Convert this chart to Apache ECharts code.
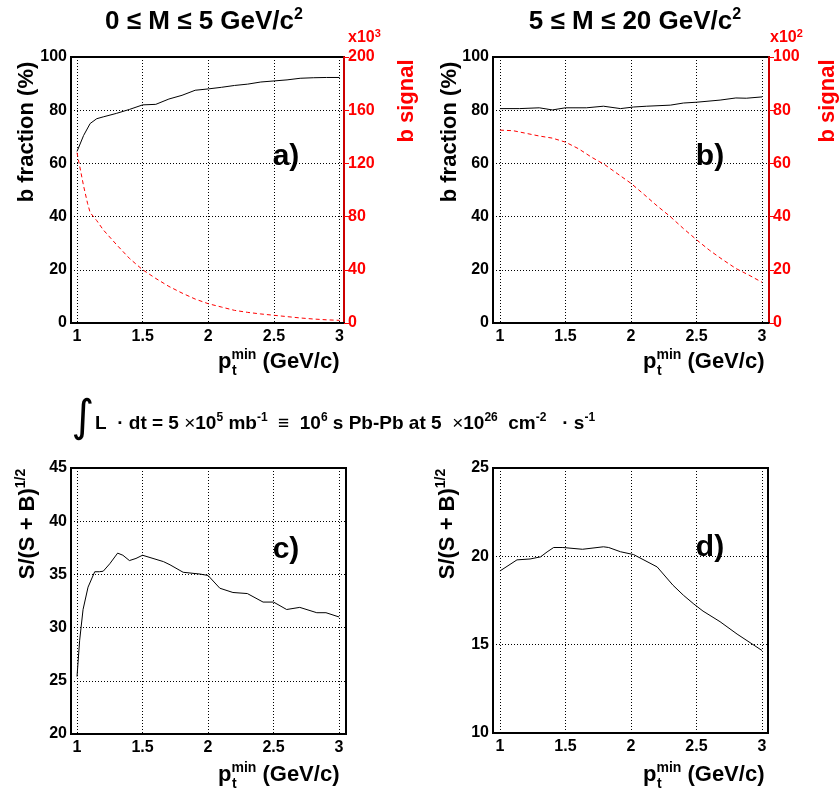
<!DOCTYPE html>
<html><head><meta charset="utf-8">
<script src="https://cdn.jsdelivr.net/npm/echarts@6/dist/echarts.min.js"></script>
<style>html,body{margin:0;padding:0;background:#fff}#c{width:840px;height:792px}</style>
</head><body><div id="c"></div>
<script>
// ---- data ----
const xTicks = [1, 1.5, 2, 2.5, 3];
const fracA_x = [1.0,1.05,1.1,1.15,1.2,1.3,1.4,1.5,1.6,1.7,1.8,1.9,2.0,2.1,2.2,2.3,2.4,2.5,2.6,2.7,2.8,2.9,3.0];
const fracA_y = [64.5,70.5,75,76.8,77.5,78.8,80.3,82,82.2,84.2,85.6,87.5,88,88.6,89.3,89.8,90.6,91,91.4,92,92.2,92.3,92.3];
const sigA_x = [1.0,1.02,1.05,1.08,1.1,1.15,1.2,1.3,1.4,1.5,1.6,1.7,1.8,1.9,2.0,2.1,2.2,2.3,2.4,2.5,2.6,2.7,2.8,2.9,3.0];
const sigA_y = [128,118,103,90,83,77,70,59,48.5,40,33.5,27.5,22.5,18,14.5,12,9.5,8,6.8,5.8,4.8,3.8,3,2.4,2];
const fracB_x = [1.0,1.15,1.3,1.4,1.5,1.66,1.79,1.92,2.02,2.12,2.3,2.4,2.5,2.68,2.8,2.88,3.0];
const fracB_y = [80.6,80.6,80.9,80.1,80.9,80.9,81.5,80.6,81.2,81.5,81.9,82.7,83,83.8,84.6,84.5,85];
const sigB_x = [1.0,1.1,1.2,1.3,1.4,1.5,1.6,1.7,1.8,1.9,2.0,2.1,2.2,2.3,2.4,2.5,2.6,2.7,2.8,2.9,3.0];
const sigB_y = [72.5,72.3,71.3,70.3,69.5,68,65.5,62.3,59.5,56,52.5,48.3,44,40,35.5,31.3,27.3,23.8,20.5,18,15.3];
const sigC_x = [1.0,1.02,1.046,1.084,1.135,1.17,1.2,1.25,1.31,1.35,1.4,1.45,1.5,1.58,1.66,1.71,1.81,1.94,2.0,2.09,2.19,2.3,2.42,2.5,2.6,2.7,2.83,2.9,3.0];
const sigC_y = [25.4,28.8,31.7,33.8,35.25,35.25,35.3,36,37.0,36.8,36.3,36.5,36.8,36.5,36.2,35.9,35.2,35.03,34.9,33.7,33.3,33.2,32.4,32.4,31.7,31.9,31.4,31.4,31.0];
const sigD_x = [1.0,1.13,1.23,1.31,1.36,1.41,1.48,1.63,1.79,1.83,1.92,2.02,2.2,2.32,2.4,2.48,2.55,2.68,2.81,3.0];
const sigD_y = [19.17,19.8,19.85,19.97,20.25,20.5,20.5,20.4,20.54,20.5,20.26,20.1,19.4,18.37,17.8,17.3,16.9,16.3,15.6,14.67];

const pairs = (xs, ys) => xs.map((x, i) => [x, ys[i]]);
const FONT = 'Liberation Sans, Arial, sans-serif';
const RED = '#ff0000', DRED = '#cc0000';

const grids = [
  {left: 71, right: 496, top: 57, bottom: 469},
  {left: 493, right: 71, top: 57, bottom: 469},
  {left: 71, right: 494, top: 468, bottom: 58},
  {left: 493, right: 72, top: 468, bottom: 59}
].map(g => Object.assign(g, {show: true, borderColor: '#000', borderWidth: 2, backgroundColor: 'transparent', containLabel: false}));

const dotted = {show: true, lineStyle: {color: '#000', width: 1, type: [1, 2]}};
function xAx(i, min, max) {
  return {type: 'value', gridIndex: i, min: min, max: max,
    axisLine: {show: true, onZero: false, lineStyle: {color: '#000', width: 2}},
    axisTick: {show: false, customValues: xTicks},
    axisLabel: {customValues: xTicks, color: '#000', fontFamily: FONT, fontWeight: 'bold', fontSize: 16, margin: 6},
    splitLine: dotted};
}
function yAx(i, min, max, interval) {
  return {type: 'value', gridIndex: i, min: min, max: max, interval: interval, position: 'left',
    axisLine: {show: true, onZero: false, lineStyle: {color: '#000', width: 2}},
    axisTick: {show: false},
    axisLabel: {color: '#000', fontFamily: FONT, fontWeight: 'bold', fontSize: 16, margin: 4},
    splitLine: dotted};
}
function yAxR(i, min, max, interval) {
  return {type: 'value', gridIndex: i, min: min, max: max, interval: interval, position: 'right',
    axisLine: {show: true, onZero: false, lineStyle: {color: DRED, width: 2}},
    axisTick: {show: true, inside: false, length: 5, lineStyle: {color: RED, width: 1}},
    axisLabel: {color: RED, fontFamily: FONT, fontWeight: 'bold', fontSize: 16, margin: 4},
    splitLine: {show: false}};
}

const xAxis = [xAx(0, 0.954, 3.034), xAx(1, 0.947, 3.053), xAx(2, 0.954, 3.053), xAx(3, 0.947, 3.046)];
const yAxis = [yAx(0, 0, 100, 20), yAxR(0, 0, 200, 40), yAx(1, 0, 100, 20), yAxR(1, 0, 100, 20), yAx(2, 20, 45, 5), yAx(3, 10, 25, 5)];

const line = (xi, yi, data, color, type) => ({type: 'line', xAxisIndex: xi, yAxisIndex: yi, data: data, symbol: 'none', smooth: false,
  lineStyle: {color: color, width: 1, type: type || 'solid'}, silent: true, animation: false});

const series = [
  line(0, 0, pairs(fracA_x, fracA_y), '#000'),
  line(0, 1, pairs(sigA_x, sigA_y), RED, [4, 3]),
  line(1, 2, pairs(fracB_x, fracB_y), '#000'),
  line(1, 3, pairs(sigB_x, sigB_y), RED, [4, 3]),
  line(2, 4, pairs(sigC_x, sigC_y), '#000'),
  line(3, 5, pairs(sigD_x, sigD_y), '#000')
];

const B = {fontFamily: FONT, fontWeight: 'bold'};
function txt(x, y, text, size, opts, fill) {
  return Object.assign({type: 'text', x: x, y: y, silent: true,
    style: Object.assign({text: text, fontSize: size, fill: fill || '#000', align: 'center', verticalAlign: 'middle'}, B)}, opts || {});
}
function richTxt(x, y, text, rich, opts, styleExtra) {
  return Object.assign({type: 'text', x: x, y: y, silent: true,
    style: Object.assign({text: text, rich: rich, align: 'center', verticalAlign: 'middle', fill: '#000'}, B, styleExtra || {})}, opts || {});
}
const titleRich = {m: Object.assign({fontSize: 26, lineHeight: 30, fill: '#000'}, B), s: Object.assign({fontSize: 16, lineHeight: 18, verticalAlign: 'top', fill: '#000'}, B)};
const redRich = {m: Object.assign({fontSize: 16, lineHeight: 20, fill: RED}, B), s: Object.assign({fontSize: 11, lineHeight: 12, verticalAlign: 'top', fill: RED}, B)};
const xtRich = {m: Object.assign({fontSize: 22, lineHeight: 28, fill: '#000'}, B), s: Object.assign({fontSize: 14, lineHeight: 14, verticalAlign: 'top', fill: '#000'}, B)};
const sbRich = {m: Object.assign({fontSize: 22, lineHeight: 28, fill: '#000'}, B), s: Object.assign({fontSize: 14, lineHeight: 14, verticalAlign: 'top', fill: '#000'}, B)};
const lumRich = {m: Object.assign({fontSize: 19, lineHeight: 24, fill: '#000'}, B), s: Object.assign({fontSize: 12, lineHeight: 13, verticalAlign: 'top', fill: '#000'}, B),
  x: {fontFamily: FONT, fontWeight: 'normal', fontSize: 19, lineHeight: 24, fill: '#000'}};

function xTitle(x0, y) {
  return [
    richTxt(x0, y, '{m|p}{s|min}{m| (GeV/c)}', xtRich, {}, {align: 'left'}),
    {type: 'text', x: x0 + 14, y: y + 9, silent: true, style: Object.assign({text: 't', fontSize: 14, fill: '#000', align: 'left', verticalAlign: 'middle'}, B)}
  ];
}

const graphic = [
  richTxt(204, 22, '{m|0 ≤ M ≤ 5 GeV/c}{s|2}', titleRich),
  richTxt(635, 22, '{m|5 ≤ M ≤ 20 GeV/c}{s|2}', titleRich),
  txt(27, 132, 'b fraction (%)', 22, {rotation: Math.PI / 2}),
  txt(450, 132, 'b fraction (%)', 22, {rotation: Math.PI / 2}),
  txt(407, 101, 'b signal', 22, {rotation: Math.PI / 2}, RED),
  txt(828, 101, 'b signal', 22, {rotation: Math.PI / 2}, RED),
  richTxt(348, 38, '{m|x10}{s|3}', redRich, {}, {align: 'left'}),
  richTxt(770, 38, '{m|x10}{s|2}', redRich, {}, {align: 'left'}),
  txt(286, 157, 'a)', 30), txt(710, 157, 'b)', 30), txt(286, 550, 'c)', 30), txt(710, 548, 'd)', 30),
  ...xTitle(218, 362), ...xTitle(643, 362), ...xTitle(218, 775), ...xTitle(643, 775),
  richTxt(28, 524, '{m|S/(S + B)}{s|1/2}', sbRich, {rotation: Math.PI / 2}),
  richTxt(448, 524, '{m|S/(S + B)}{s|1/2}', sbRich, {rotation: Math.PI / 2}),
  {type: 'text', x: 83, y: 420, silent: true, style: {text: '∫', fontFamily: 'DejaVu Sans', fontWeight: 'normal', fontSize: 44, fill: '#000', align: 'center', verticalAlign: 'middle'}},
  richTxt(95, 424, '{m|L  · dt = 5 }{x|×}{m|10}{s|5}{m| mb}{s|-1}{m|  ≡  10}{s|6}{m| s Pb-Pb at 5  }{x|×}{m|10}{s|26}{m|  cm}{s|-2}{m|   · s}{s|-1}', lumRich, {}, {align: 'left'})
];

const chart = echarts.init(document.getElementById('c'), null, {renderer: 'canvas'});
chart.setOption({animation: false, backgroundColor: '#fff', grid: grids, xAxis: xAxis, yAxis: yAxis, series: series, graphic: graphic});
</script></body></html>
